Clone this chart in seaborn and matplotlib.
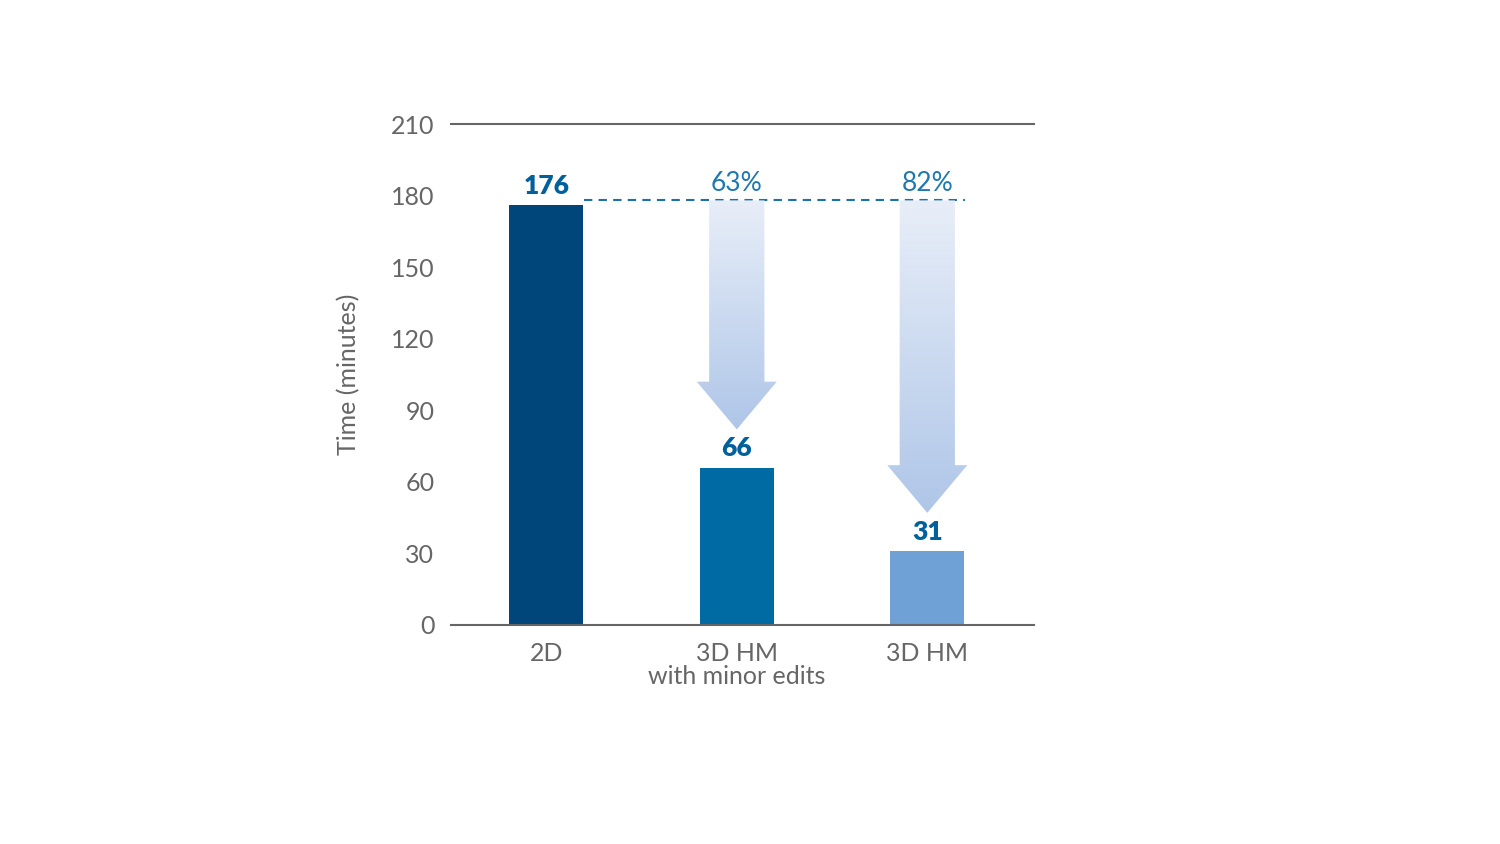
import numpy as np
import pandas as pd
import matplotlib
matplotlib.use('Agg')
import matplotlib.pyplot as plt
import seaborn as sns
from matplotlib.patches import Polygon

categories = ['2D', '3D HM\nwith minor edits', '3D HM']
times = [176, 66, 31]
reductions = ['', '63%', '82%']
bar_colors = ['#00467a', '#006aa3', '#6fa0d6']
yticks = [0, 30, 60, 90, 120, 150, 180, 210]

plt.rcParams['font.family'] = 'Lato'
grey = '#666666'
label_blue = '#00609c'

df = pd.DataFrame({'cat': categories, 'time': times})

fig = plt.figure(figsize=(15, 8.44), dpi=100)
ax = fig.add_axes([0.3007, 0.2595, 0.3886, 0.5935])
sns.barplot(data=df, x='cat', y='time', hue='cat', palette=bar_colors,
            width=0.39, legend=False, ax=ax, saturation=1)

ax.set_xlim(-0.5, 2.56)
ax.set_ylim(0, 210)
ax.set_yticks(yticks)
ax.tick_params(length=0, labelsize=18, colors=grey, pad=12)
ax.set_xlabel('')
ax.set_ylabel('Time (minutes)', fontsize=18, color=grey, labelpad=22)
for s in ['left', 'right', 'top']:
    ax.spines[s].set_visible(False)
ax.spines['bottom'].set_color(grey)
ax.spines['bottom'].set_linewidth(1.5)
ax.axhline(210, color=grey, lw=1.5, clip_on=False)
for lbl in ax.get_xticklabels():
    lbl.set_linespacing(1.0)

top = 178
ax.plot([0.2, 2.2], [top, top], ls=(0, (4, 3)), color='#1f6fa8', lw=1.5)

# value labels
for i, v in enumerate(times):
    ax.text(i, v + 3, str(v), ha='center', va='bottom', fontsize=19,
            fontweight='black', color=label_blue)
    if reductions[i]:
        ax.text(i, 180, reductions[i], ha='center', va='bottom', fontsize=19,
                color='#1f78b0')

# gradient arrows
grad = np.linspace(0, 1, 256).reshape(-1, 1)
cmap = matplotlib.colors.LinearSegmentedColormap.from_list('g', ['#e8eef8', '#afc6e8'])
for i, v in [(1, times[1]), (2, times[2])]:
    tip = v + 16
    head = tip + 20
    sw, hw = 0.145, 0.21
    pts = [(i - sw, top), (i + sw, top), (i + sw, head), (i + hw, head),
           (i, tip), (i - hw, head), (i - sw, head)]
    poly = Polygon(pts, closed=True, facecolor='none', edgecolor='none')
    ax.add_patch(poly)
    im = ax.imshow(grad, extent=[i - hw, i + hw, tip, top], aspect='auto',
                   cmap=cmap, origin='upper', zorder=2)
    im.set_clip_path(poly)

ax.set_xlim(-0.5, 2.56)
ax.set_ylim(0, 210)
fig.savefig('out.png', dpi=100)
